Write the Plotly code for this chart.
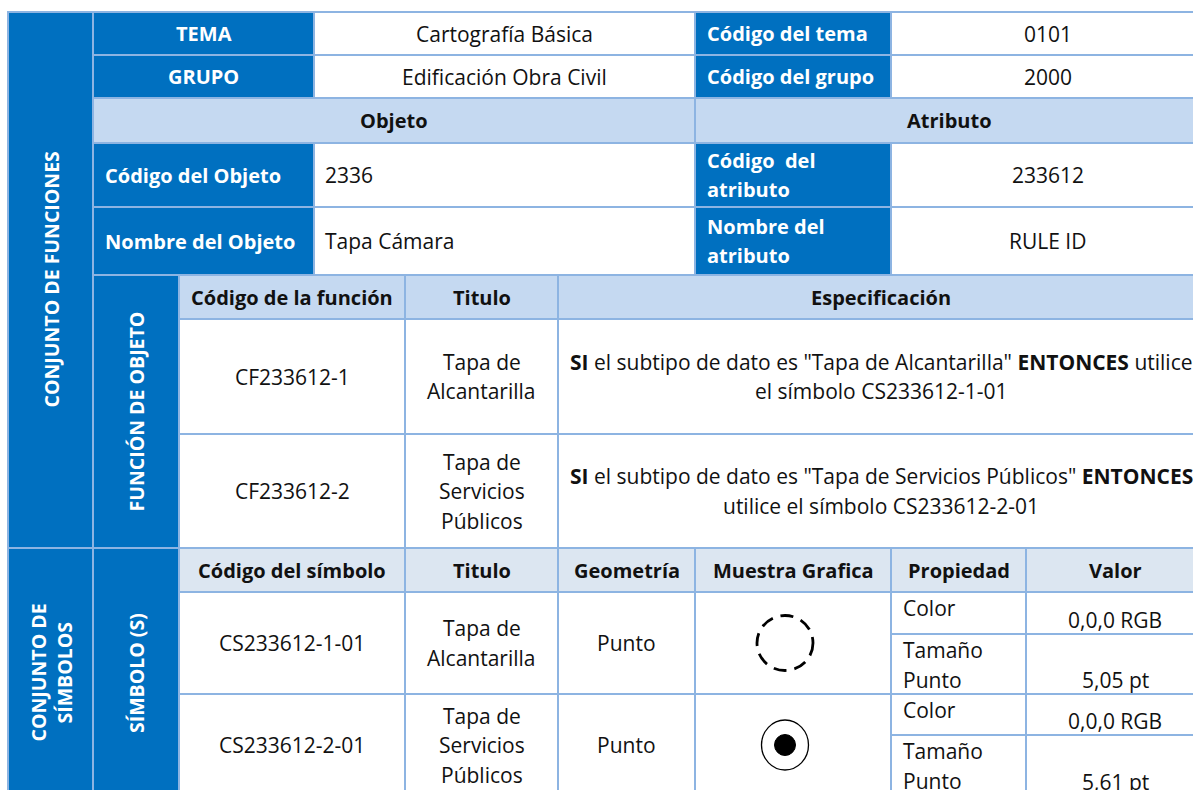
import plotly.graph_objects as go

# ---------------- data (texts of the table) ----------------
top_labels = ["TEMA", "GRUPO"]
top_values = ["Cartografía Básica", "Edificación Obra Civil"]
code_labels = ["Código del tema", "Código del grupo"]
code_values = ["0101", "2000"]
section_titles = ["Objeto", "Atributo"]
obj_labels = ["Código del Objeto", "Nombre del Objeto"]
obj_values = ["2336", "Tapa Cámara"]
attr_labels = ["Código  del<br>atributo", "Nombre del<br>atributo"]
attr_values = ["233612", "RULE ID"]
side_titles = ["CONJUNTO DE FUNCIONES", "FUNCIÓN DE OBJETO", "CONJUNTO DE<br>SÍMBOLOS", "SÍMBOLO (S)"]
func_headers = ["Código de la función", "Titulo", "Especificación"]
func_codes = ["CF233612-1", "CF233612-2"]
func_titles = ["Tapa de<br>Alcantarilla", "Tapa de<br>Servicios<br>Públicos"]
func_specs = [
    '<b>SI</b> el subtipo de dato es "Tapa de Alcantarilla" <b>ENTONCES</b> utilice<br>el símbolo CS233612-1-01',
    '<b>SI</b> el subtipo de dato es "Tapa de Servicios Públicos" <b>ENTONCES</b><br>utilice el símbolo CS233612-2-01',
]
sym_headers = ["Código del símbolo", "Titulo", "Geometría", "Muestra Grafica", "Propiedad", "Valor"]
sym_codes = ["CS233612-1-01", "CS233612-2-01"]
sym_titles = ["Tapa de<br>Alcantarilla", "Tapa de<br>Servicios<br>Públicos"]
sym_geoms = ["Punto", "Punto"]
sym_props = [["Color", "Tamaño<br>Punto"], ["Color", "Tamaño<br>Punto"]]
sym_values = [["0,0,0 RGB", "5,05 pt"], ["0,0,0 RGB", "5,61 pt"]]
sym_kinds = ["dashed", "dot"]

# ---------------- style ----------------
BLUE = "#0070C0"
LIGHT = "#C5D9F1"
LIGHTER = "#DCE6F1"
BORDER = "#8DB4E2"
WHITE = "#FFFFFF"
TXT = "#111111"
FONT = "Open Sans"
FS = 21
FS_B = 20
FS_V = 19.5
LH = 29.5

# grid
X0, X1, X2, X3, X4, X5, X6, X7, X8, XR = 8, 93, 179, 314, 405, 558, 695, 891, 1026, 1204
Y = dict(t=12, r1=55, r2=98, r3=143, r4=207, r5=275, fh=319, f1=434, f2=548,
         sh=592, s1a=634, s1=694, s2a=735, s2=796)

shapes = []
annotations = []


def cell(x0, y0, x1, y1, fill):
    shapes.append(dict(type="rect", xref="x", yref="y", x0=x0, x1=x1, y0=y0, y1=y1,
                       fillcolor=fill, line=dict(color=BORDER, width=2), layer="below"))


def text(x, y, s, color=TXT, bold=False, anchor="center", valign="middle"):
    lines = s.split("<br>")
    n = len(lines)
    for i, ln in enumerate(lines):
        if valign == "middle":
            yy = y + (i - (n - 1) / 2) * LH
        elif valign == "top":
            yy = y + i * LH
        else:
            yy = y - (n - 1 - i) * LH
        t = f"<b>{ln}</b>" if bold else ln
        annotations.append(dict(x=x, y=yy, xref="x", yref="y", text=t, showarrow=False,
                                xanchor=anchor, yanchor="middle",
                                font=dict(family=FONT, size=FS_B if bold else FS, color=color)))


def vtext(x, y, s):
    lines = s.split("<br>")
    n = len(lines)
    for i, ln in enumerate(lines):
        xx = x + (i - (n - 1) / 2) * 26
        annotations.append(dict(x=xx, y=y, xref="x", yref="y", text=f"<b>{ln}</b>",
                                showarrow=False, xanchor="center", yanchor="middle",
                                textangle=-90, font=dict(family=FONT, size=FS_V, color=WHITE)))


# ---- left vertical columns
cell(X0, Y["t"], X1, Y["f2"], BLUE)
vtext((X0 + X1) / 2, (Y["t"] + Y["f2"]) / 2, side_titles[0])
cell(X1, Y["r5"], X2, Y["f2"], BLUE)
vtext((X1 + X2) / 2, (Y["r5"] + Y["f2"]) / 2, side_titles[1])
cell(X0, Y["f2"], X1, Y["s2"], BLUE)
vtext((X0 + X1) / 2, 673, side_titles[2])
cell(X1, Y["f2"], X2, Y["s2"], BLUE)
vtext((X1 + X2) / 2, 673, side_titles[3])

# ---- TEMA / GRUPO rows
rows = [(Y["t"], Y["r1"]), (Y["r1"], Y["r2"])]
for i, (a, b) in enumerate(rows):
    m = (a + b) / 2
    cell(X1, a, X3, b, BLUE)
    text((X1 + X3) / 2, m, top_labels[i], WHITE, True)
    cell(X3, a, X6, b, WHITE)
    text((X3 + X6) / 2, m, top_values[i])
    cell(X6, a, X7, b, BLUE)
    text(X6 + 10, m, code_labels[i], WHITE, True, "left")
    cell(X7, a, XR, b, WHITE)
    text((X7 + XR) / 2, m, code_values[i])

# ---- Objeto / Atributo header
m = (Y["r2"] + Y["r3"]) / 2
cell(X1, Y["r2"], X6, Y["r3"], LIGHT)
text((X1 + X6) / 2, m, section_titles[0], TXT, True)
cell(X6, Y["r2"], XR, Y["r3"], LIGHT)
text((X6 + XR) / 2, m, section_titles[1], TXT, True)

rows = [(Y["r3"], Y["r4"]), (Y["r4"], Y["r5"])]
for i, (a, b) in enumerate(rows):
    m = (a + b) / 2
    cell(X1, a, X3, b, BLUE)
    text(X1 + 10, m, obj_labels[i], WHITE, True, "left")
    cell(X3, a, X6, b, WHITE)
    text(X3 + 9, m, obj_values[i], TXT, False, "left")
    cell(X6, a, X7, b, BLUE)
    text(X6 + 10, m, attr_labels[i], WHITE, True, "left")
    cell(X7, a, XR, b, WHITE)
    text((X7 + XR) / 2, m, attr_values[i])

# ---- function section
fcols = [(X2, X4), (X4, X5), (X5, XR)]
m = (Y["r5"] + Y["fh"]) / 2
for (a, b), h in zip(fcols, func_headers):
    cell(a, Y["r5"], b, Y["fh"], LIGHT)
    text((a + b) / 2, m, h, TXT, True)
frows = [(Y["fh"], Y["f1"]), (Y["f1"], Y["f2"])]
for i, (a, b) in enumerate(frows):
    m = (a + b) / 2
    vals = [func_codes[i], func_titles[i], func_specs[i]]
    for (c0, c1), v in zip(fcols, vals):
        cell(c0, a, c1, b, WHITE)
        text((c0 + c1) / 2, m, v)

# ---- symbol section
scols = [(X2, X4), (X4, X5), (X5, X6), (X6, X7), (X7, X8), (X8, XR)]
m = (Y["f2"] + Y["sh"]) / 2
for (a, b), h in zip(scols, sym_headers):
    cell(a, Y["f2"], b, Y["sh"], LIGHTER)
    text((a + b) / 2, m, h, TXT, True)
srows = [(Y["sh"], Y["s1a"], Y["s1"]), (Y["s1"], Y["s2a"], Y["s2"])]
for i, (a, mid, b) in enumerate(srows):
    m = (a + b) / 2
    for (c0, c1), v in zip(scols[:3], [sym_codes[i], sym_titles[i], sym_geoms[i]]):
        cell(c0, a, c1, b, WHITE)
        text((c0 + c1) / 2, m, v)
    cell(X6, a, X7, b, WHITE)
    cx = (X6 + X7) / 2 - 8
    if sym_kinds[i] == "dashed":
        shapes.append(dict(type="circle", xref="x", yref="y", x0=cx - 28, x1=cx + 28,
                           y0=m - 27.5, y1=m + 27.5,
                           line=dict(color="black", width=2.8, dash="13px,8px"),
                           layer="above"))
    else:
        shapes.append(dict(type="circle", xref="x", yref="y", x0=cx - 23.5, x1=cx + 23.5,
                           y0=m - 25, y1=m + 25, line=dict(color="black", width=1.3), layer="above"))
        shapes.append(dict(type="circle", xref="x", yref="y", x0=cx - 10.5, x1=cx + 10.5,
                           y0=m - 10.5, y1=m + 10.5, fillcolor="black", line=dict(color="black", width=1),
                           layer="above"))
    for j, (r0, r1) in enumerate([(a, mid), (mid, b)]):
        cell(X7, r0, X8, r1, WHITE)
        text(X7 + 10, r0 + 16, sym_props[i][j], TXT, False, "left", "top")
        cell(X8, r0, XR, r1, WHITE)
        text((X8 + XR) / 2, r1 - 14, sym_values[i][j], TXT, False, "center", "bottom")

fig = go.Figure()
fig.update_layout(
    width=1193, height=790,
    margin=dict(l=0, r=0, t=0, b=0),
    paper_bgcolor="white", plot_bgcolor="white",
    xaxis=dict(range=[0, 1193], visible=False, fixedrange=True),
    yaxis=dict(range=[790, 0], visible=False, fixedrange=True),
    shapes=shapes, annotations=annotations, showlegend=False,
)
fig.write_html("out.html", config={"displayModeBar": False},
               post_script="document.body.style.margin='0px';")
